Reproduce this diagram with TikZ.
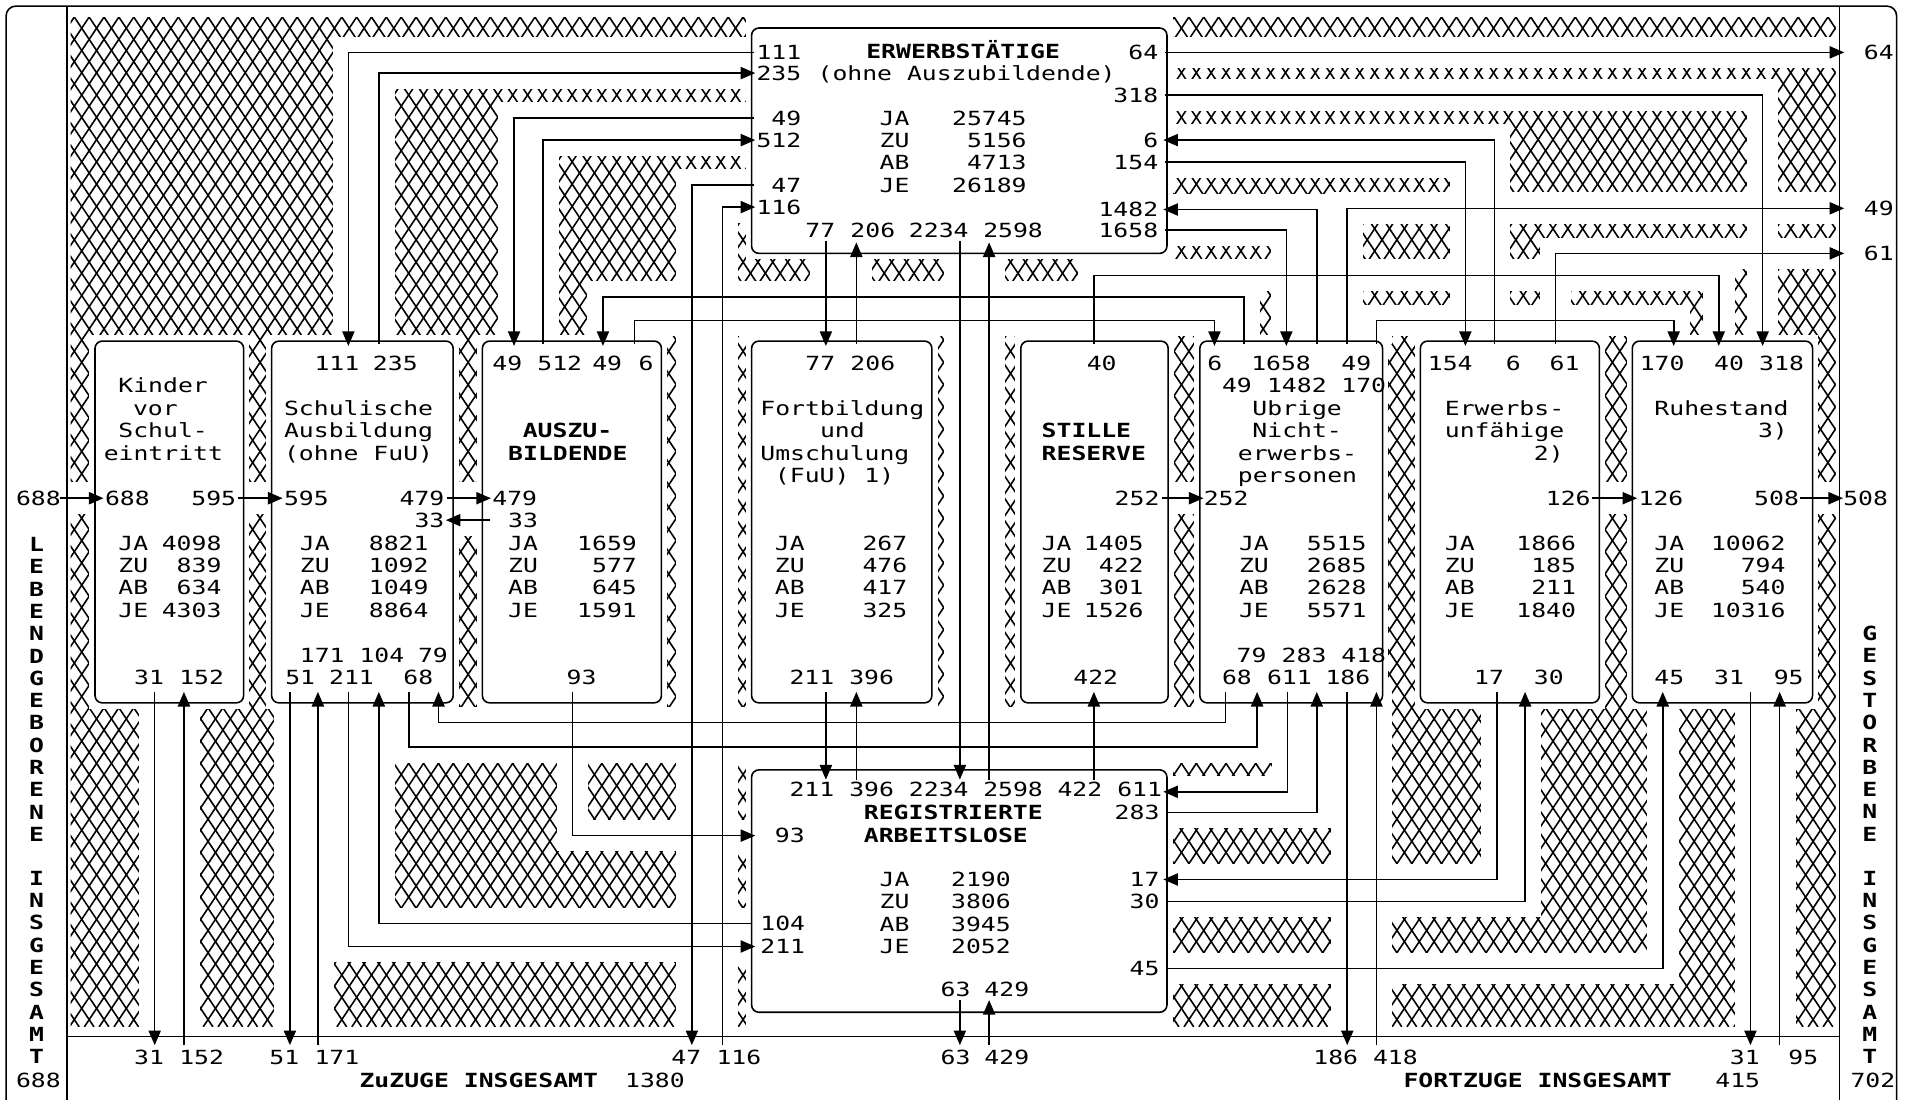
\documentclass[tikz,border=0pt]{standalone}
\usepackage{fontspec}
\newfontfamily\dotfont[FakeStretch=1.27]{DejaVu Sans Mono}
\usepackage{tikz}
\usetikzlibrary{arrows.meta,calc,fit}
\pgfdeclarelayer{hatch}
\pgfdeclarelayer{channel}
\pgfsetlayers{hatch,channel,main}
\tikzset{
	state_box/.style={draw, rounded corners=6pt, line width=1.3pt, inner sep=0pt},
	flow_arrow/.style={-{Triangle[length=12pt,width=10pt]}, line width=1.3pt},
	flow_gap/.style={white, line width=26pt},
	mesh_line/.style={line width=1.3pt},
	frame_line/.style={line width=1.3pt},
	lbl/.style={font=\dotfont\fontsize{16}{18.3}\selectfont, inner sep=0pt,
		text height=11.7pt, text depth=0pt},
	bold_lbl/.style={lbl, font=\dotfont\bfseries\fontsize{16}{18.3}\selectfont}
}
\newcommand{\flowline}[1]{%
	\begin{pgfonlayer}{channel}\draw[flow_gap] #1;\end{pgfonlayer}
	\draw[flow_arrow] #1;}
\newcommand{\statblock}[8]{%
	\foreach \stkey/\stval [count=\nr from 0] in {JA/#5,ZU/#6,AB/#7,JE/#8}{
		\node[lbl, anchor=west] (#1_k\nr) at (#2,#4+18.3*\nr) {\stkey};
		\node[lbl, anchor=east] (#1_v\nr) at (#3,#4+18.3*\nr) {\stval};}}

\begin{document}
\begin{tikzpicture}[x=1pt, y=-1pt]
	\useasboundingbox (0,0) rectangle (1568,903);
	% frame
	\draw[frame_line, rounded corners=8pt] (5,910) -- (5,5) -- (1557,5) -- (1557,910);
	\draw[frame_line] (55,5) -- (55,910) (1510,5) -- (1510,910) (55,851) -- (1510,851);

	% states
	\node[state_box, fit={(617,23) (958,208)}]  (erw) {};
	\node[state_box, fit={(617,632) (958,831)}] (al) {};
	\node[state_box, fit={(78,280) (200,577)}]   (kinder) {};
	\node[state_box, fit={(223,280) (372,577)}]  (schul) {};
	\node[state_box, fit={(396,280) (543,577)}]  (azubi) {};
	\node[state_box, fit={(617,280) (765,577)}]  (fortb) {};
	\node[state_box, fit={(838,280) (959,577)}]  (stille) {};
	\node[state_box, fit={(985,280) (1135,577)}] (uebrige) {};
	\node[state_box, fit={(1166,280) (1313,577)}] (eunf) {};
	\node[state_box, fit={(1340,280) (1488,577)}] (ruhe) {};

	% hatching
	\begin{pgfonlayer}{hatch}
		\begin{scope}
			\clip (58,14) rectangle (1507,843);
			\foreach \hx in {-42,...,170}{
				\draw[mesh_line] (\hx*12.2,14) -- ++(553,829);
				\draw[mesh_line] (\hx*12.2,14) -- ++(-553,829);}
		\end{scope}
	\end{pgfonlayer}
	\begin{pgfonlayer}{channel}
		\foreach \bx in {kinder,schul,azubi,fortb,stille,uebrige,eunf,ruhe}
			\fill[white] ($(\bx.north west)+(-4,-4)$) rectangle ($(\bx.south east)+(4,4)$);
		\fill[white] ($(erw.north west)+(-4,-13)$) rectangle ($(erw.south east)+(4,4)$);
		\fill[white] ($(al.north west)+(-4,-7)$) rectangle ($(al.south east)+(4,15)$);
	\end{pgfonlayer}

	% ports
	\foreach \cn/\cx/\cy in {
		e_l111/619/43, e_l235/620/60, e_l49/619/97, e_l512/620/115, e_l47/619/152, e_l116/620/170,
		e_r64/956/43, e_r318/956/78, e_r6/955/115, e_r154/956/133, e_r1482/955/172, e_r1658/956/189,
		e_b77/678/198, e_b206/703/199, e_b2234/788/198, e_b2598/812/199,
		o_64/1514/43, o_49/1514/171, o_61/1514/208, o_508/1513/409, i_688/49/409,
		k_l688/85/409, k_r595/195/409, k_b31/127/568, k_b152/151/568,
		s_t111/286/284, s_t235/311/282, s_l595/232/409, s_r479/367/409, s_r33/366/427,
		s_b51/238/568, s_b171/261/568, s_b211/286/568, s_b104/311/568, s_b68/336/568, s_b79/360/568,
		a_t49/422/284, a_t512/446/282, a_t49b/495/284, a_t6/521/282, a_l479/403/409, a_l33/402/427, a_b93/470/568,
		f_t77/678/284, f_t206/703/282, f_b211/678/568, f_b396/703/568,
		st_t40/898/282, st_r252/954/409, st_b422/898/568,
		n_t6/997/284, n_t49a/1021/282, n_t1658/1056/284, n_t1482/1081/282, n_t49b/1106/282, n_t170/1130/282,
		n_l252/988/409, n_b79/1006/568, n_b68/1032/568, n_b611/1057/568, n_b283/1081/568, n_b186/1106/568, n_b418/1130/568,
		u_t154/1203/284, u_t6/1227/282, u_t61/1277/282, u_r126/1307/409, u_b17/1229/568, u_b30/1252/568,
		r_t170/1374/284, r_t40/1411/284, r_t318/1447/284, r_l126/1344/409, r_r508/1478/409,
		r_b45/1365/568, r_b31/1437/568, r_b95/1461/568,
		l_t211/678/640, l_t396/703/640, l_t2234/788/640, l_t2598/812/640, l_t422/898/640,
		l_r611/955/650, l_r283/958/667, l_r17/955/722, l_r30/958/740, l_r45/958/795,
		l_l93/620/686, l_l104/617/758, l_l211/620/777, l_b63/788/821, l_b429/812/821,
		z_31a/127/858, z_152/151/858, z_51/238/858, z_171/261/858, z_47/568/858, z_116/593/858,
		z_63/788/858, z_429/812/858, z_186/1106/858, z_418/1130/858, z_31b/1437/858, z_95/1461/858}
		\coordinate (\cn) at (\cx,\cy);

	% flows
	\flowline{(e_l111) -| (s_t111)}
	\flowline{(s_t235) |- (e_l235)}
	\flowline{(e_l49) -| (a_t49)}
	\flowline{(a_t512) |- (e_l512)}
	\flowline{(e_l47) -| (z_47)}
	\flowline{(z_116) |- (e_l116)}
	\flowline{(e_r64) -- (o_64)}
	\flowline{(e_r318) -| (r_t318)}
	\flowline{(u_t6) |- (e_r6)}
	\flowline{(e_r154) -| (u_t154)}
	\flowline{(n_t1482) |- (e_r1482)}
	\flowline{(e_r1658) -| (n_t1658)}
	\flowline{(n_t49a) -- ++(0,-38) -| (a_t49b)}
	\flowline{(a_t6) -- ++(0,-19) -| (n_t6)}
	\flowline{(st_t40) -- ++(0,-56) -| (r_t40)}
	\flowline{(n_t49b) |- (o_49)}
	\flowline{(u_t61) |- (o_61)}
	\flowline{(n_t170) -- ++(0,-19) -| (r_t170)}
	\flowline{(e_b77) -- (f_t77)}
	\flowline{(f_t206) -- (e_b206)}
	\flowline{(e_b2234) -- (l_t2234)}
	\flowline{(l_t2598) -- (e_b2598)}
	\flowline{(f_b211) -- (l_t211)}
	\flowline{(l_t396) -- (f_b396)}
	\flowline{(l_t422) -- (st_b422)}
	\flowline{(n_b611) |- (l_r611)}
	\flowline{(l_r283) -| (n_b283)}
	\flowline{(u_b17) |- (l_r17)}
	\flowline{(l_r30) -| (u_b30)}
	\flowline{(l_r45) -| (r_b45)}
	\flowline{(l_b63) -- (z_63)}
	\flowline{(z_429) -- (l_b429)}
	\flowline{(a_b93) |- (l_l93)}
	\flowline{(l_l104) -| (s_b104)}
	\flowline{(s_b211) |- (l_l211)}
	\flowline{(n_b79) -- ++(0,25) -| (s_b79)}
	\flowline{(s_b68) -- ++(0,45) -| (n_b68)}
	\flowline{(n_b186) -- (z_186)}
	\flowline{(z_418) -- (n_b418)}
	\flowline{(r_b31) -- (z_31b)}
	\flowline{(z_95) -- (r_b95)}
	\flowline{(k_b31) -- (z_31a)}
	\flowline{(z_152) -- (k_b152)}
	\flowline{(s_b51) -- (z_51)}
	\flowline{(z_171) -- (s_b171)}
	\flowline{(i_688) -- (k_l688)}
	\flowline{(k_r595) -- (s_l595)}
	\flowline{(s_r479) -- (a_l479)}
	\flowline{(a_l33) -- (s_r33)}
	\flowline{(st_r252) -- (n_l252)}
	\flowline{(u_r126) -- (r_l126)}
	\flowline{(r_r508) -- (o_508)}

	% flow labels
	\foreach \nm/\tx/\an/\px/\py in {
		le1/111/east/658/43, le2/235/east/658/60, le3/49/east/658/97, le4/512/east/658/115,
		le5/47/east/658/152, le6/116/east/658/170, le7/77/west/661/189, le8/206/west/698/189,
		le9/2234/west/746/189, le10/2598/west/807/189, le11/64/east/951/43, le12/318/east/951/78,
		le13/6/east/951/115, le14/154/east/951/133, le15/1482/east/951/172, le16/1658/east/951/189,
		lo1/64/west/1530/43, lo2/49/west/1530/171, lo3/61/west/1530/208, lo4/508/west/1513/409,
		lk0/688/west/13/409, lk1/688/west/86/409, lk2/595/east/194/409, lk3/31/west/110/556, lk4/152/west/147/556,
		ls1/111/west/258/298, ls2/235/west/306/298, ls3/595/west/233/409, ls4/479/east/365/409,
		ls5/33/east/365/427, ls6/171/west/246/538, ls7/104/west/295/538, ls8/79/west/343/538,
		ls9/51/west/234/556, ls10/211/west/270/556, ls11/68/west/331/556,
		la1/49/west/404/298, la2/512/west/441/298, la3/49/west/486/298, la4/6/west/524/298,
		la5/479/west/404/409, la6/33/west/417/427, la7/93/west/465/556,
		lf1/77/west/661/298, lf2/206/west/698/298, lf3/211/west/648/556, lf4/396/west/697/556,
		lst1/40/west/892/298, lst2/252/east/952/409, lst3/422/west/881/556,
		ln1/6/west/991/298, ln2/1658/west/1027/298, ln3/49/west/1101/298,
		ln4/49/west/1003/316, ln5/1482/west/1040/316, ln6/170/west/1101/316, ln7/252/west/988/409,
		ln8/79/west/1015/538, ln9/283/west/1052/538, ln10/418/west/1101/538,
		ln11/68/west/1003/556, ln12/611/west/1040/556, ln13/186/west/1088/556,
		lu1/154/west/1172/298, lu2/6/west/1236/298, lu3/61/west/1272/298, lu4/126/east/1306/409,
		lu5/17/west/1210/556, lu6/30/west/1259/556,
		lr1/170/west/1346/298, lr2/40/west/1407/298, lr3/318/west/1444/298, lr4/126/west/1345/409,
		lr5/508/east/1477/409, lr6/45/west/1358/556, lr7/31/west/1407/556, lr8/95/west/1456/556,
		ll1/211/west/648/648, ll2/396/west/697/648, ll3/2234/west/746/648, ll4/2598/west/807/648,
		ll5/422/west/868/648, ll6/611/west/917/648, ll7/283/east/952/667, ll8/93/west/636/686,
		ll9/104/west/624/758, ll10/211/west/624/777, ll11/17/east/952/722, ll12/30/east/952/740,
		ll13/45/east/952/795, ll14/63/west/772/812, ll15/429/west/808/812,
		lb1/31/west/110/868, lb2/152/west/147/868, lb3/51/west/221/868, lb4/171/west/258/868,
		lb5/47/west/551/868, lb6/116/west/588/868, lb7/63/west/772/868, lb8/429/west/808/868,
		lb9/186/west/1078/868, lb10/418/west/1127/868, lb11/31/west/1420/868, lb12/95/west/1468/868,
		lb13/1380/west/513/887, lb14/415/west/1408/887, lb15/688/west/13/887, lb16/702/west/1519/887}
		\node[lbl, anchor=\an] (\nm) at (\px,\py) {\tx};

	% state names
	\node[bold_lbl, anchor=west] (erw_t1) at (711,42) {ERWERBSTÄTIGE};
	\node[lbl, anchor=west] (erw_t2) at (671,60) {(ohne Auszubildende)};
	\node[lbl, anchor=west] (kinder_t1) at (97,316) {Kinder};
	\node[lbl, anchor=west] (kinder_t2) at (109,335) {vor};
	\node[lbl, anchor=west] (kinder_t3) at (97,353) {Schul-};
	\node[lbl, anchor=west] (kinder_t4) at (85,372) {eintritt};
	\node[lbl, anchor=west] (schul_t1) at (233,335) {Schulische};
	\node[lbl, anchor=west] (schul_t2) at (233,353) {Ausbildung};
	\node[lbl, anchor=west] (schul_t3) at (233,372) {(ohne FuU)};
	\node[bold_lbl, anchor=west] (azubi_t1) at (429,353) {AUSZU-};
	\node[bold_lbl, anchor=west] (azubi_t2) at (417,372) {BILDENDE};
	\node[lbl, anchor=west] (fortb_t1) at (624,335) {Fortbildung};
	\node[lbl, anchor=west] (fortb_t2) at (673,353) {und};
	\node[lbl, anchor=west] (fortb_t3) at (624,372) {Umschulung};
	\node[lbl, anchor=west] (fortb_t4) at (636,390) {(FuU) 1)};
	\node[bold_lbl, anchor=west] (stille_t1) at (855,353) {STILLE};
	\node[bold_lbl, anchor=west] (stille_t2) at (855,372) {RESERVE};
	\node[lbl, anchor=west] (uebrige_t1) at (1028,335) {Ubrige};
	\node[lbl, anchor=west] (uebrige_t2) at (1028,353) {Nicht-};
	\node[lbl, anchor=west] (uebrige_t3) at (1016,372) {erwerbs-};
	\node[lbl, anchor=west] (uebrige_t4) at (1016,390) {personen};
	\node[lbl, anchor=west] (eunf_t1) at (1186,335) {Erwerbs-};
	\node[lbl, anchor=west] (eunf_t2) at (1186,353) {unfähige};
	\node[lbl, anchor=west] (eunf_t3) at (1259,372) {2)};
	\node[lbl, anchor=west] (ruhe_t1) at (1358,335) {Ruhestand};
	\node[lbl, anchor=west] (ruhe_t2) at (1443,353) {3)};
	\node[bold_lbl, anchor=west] (al_t1) at (709,667) {REGISTRIERTE};
	\node[bold_lbl, anchor=west] (al_t2) at (709,686) {ARBEITSLOSE};
	\node[bold_lbl, anchor=west] (zuz) at (295,887) {ZuZUGE INSGESAMT};
	\node[bold_lbl, anchor=west] (fortz) at (1152,887) {FORTZUGE INSGESAMT};

	% stocks
	\statblock{erw}{722}{843}{97}{25745}{5156}{4713}{26189}
	\statblock{kinder}{97}{182}{446}{4098}{839}{634}{4303}
	\statblock{schul}{246}{352}{446}{8821}{1092}{1049}{8864}
	\statblock{azubi}{417}{523}{446}{1659}{577}{645}{1591}
	\statblock{fortb}{636}{745}{446}{267}{476}{417}{325}
	\statblock{stille}{855}{939}{446}{1405}{422}{301}{1526}
	\statblock{uebrige}{1017}{1122}{446}{5515}{2685}{2628}{5571}
	\statblock{eunf}{1186}{1294}{446}{1866}{185}{211}{1840}
	\statblock{ruhe}{1358}{1466}{446}{10062}{794}{540}{10316}
	\statblock{al}{722}{830}{722}{2190}{3806}{3945}{2052}

	% side columns
	\foreach \ltr [count=\nr from 0] in {L,E,B,E,N,D,G,E,B,O,R,E,N,E}
		\node[bold_lbl] (lv\nr) at (30,447+18.3*\nr) {\ltr};
	\foreach \ltr [count=\nr from 0] in {I,N,S,G,E,S,A,M,T}
		\node[bold_lbl] (li\nr) at (30,721+18.3*\nr) {\ltr};
	\foreach \ltr [count=\nr from 0] in {G,E,S,T,O,R,B,E,N,E}
		\node[bold_lbl] (rv\nr) at (1535,520+18.3*\nr) {\ltr};
	\foreach \ltr [count=\nr from 0] in {I,N,S,G,E,S,A,M,T}
		\node[bold_lbl] (ri\nr) at (1535,721+18.3*\nr) {\ltr};
\end{tikzpicture}
\end{document}
